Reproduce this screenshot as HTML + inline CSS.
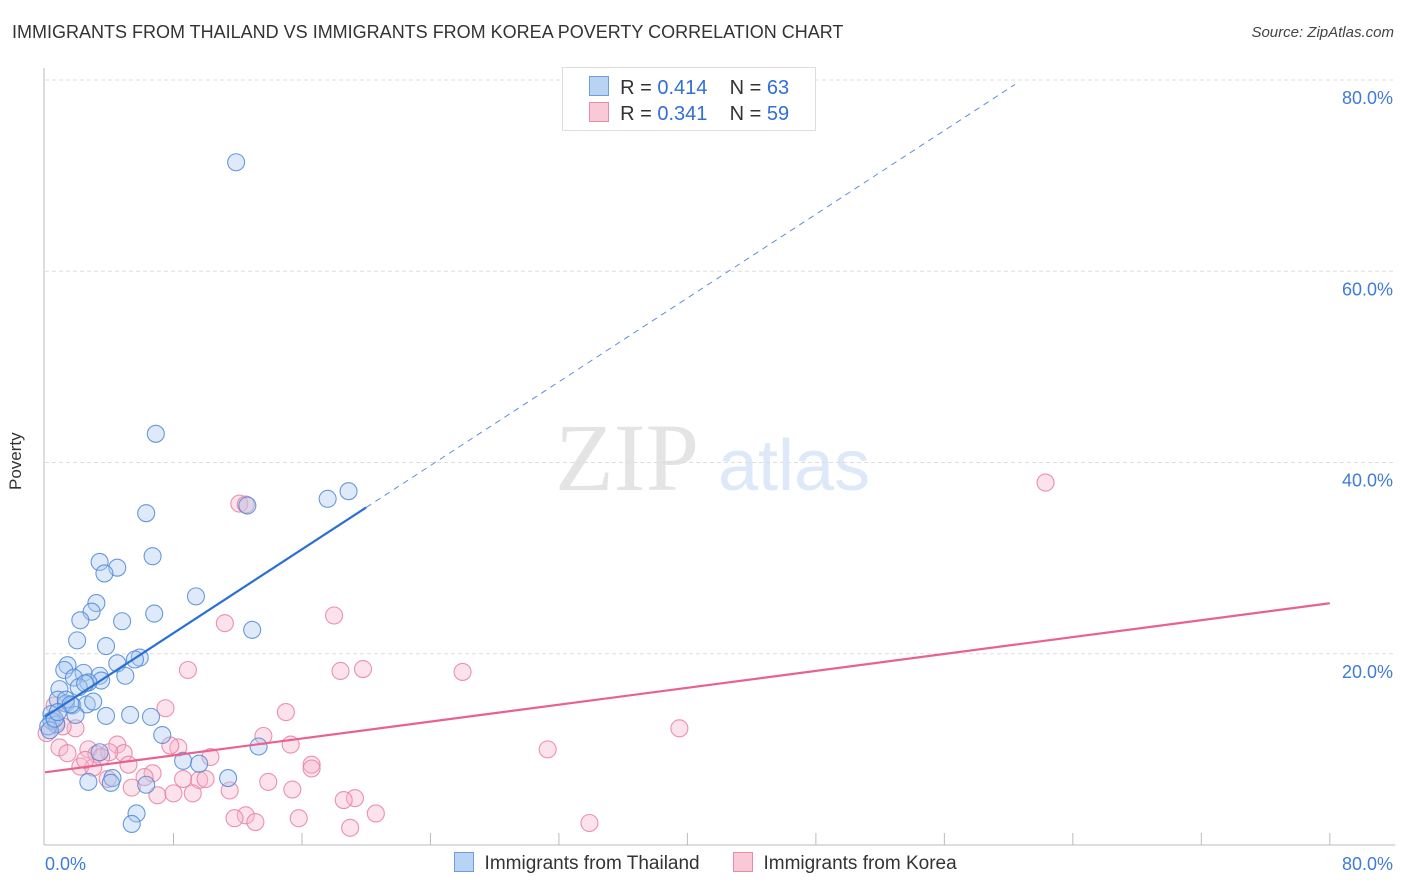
<!DOCTYPE html>
<html><head><meta charset="utf-8"><style>
body{margin:0;background:#fff;font-family:"Liberation Sans",sans-serif;}
#wrap{position:relative;width:1406px;height:892px;overflow:hidden}
.t{position:absolute;white-space:nowrap}
</style></head><body>
<div id="wrap">
<div class="t" style="left:12px;top:22px;font-size:18px;color:#333">IMMIGRANTS FROM THAILAND VS IMMIGRANTS FROM KOREA POVERTY CORRELATION CHART</div>
<div class="t" style="right:12px;top:24px;font-size:15px;color:#444;font-style:italic">Source: ZipAtlas.com</div>
<div class="t" style="left:6px;top:440px;font-size:17px;color:#333;transform:rotate(-90deg);transform-origin:left top;top:490px">Poverty</div>
<svg id="svg" width="1406" height="892" style="position:absolute;left:0;top:0"></svg>
<div style="position:absolute;left:562px;top:67px;width:252px;height:62px;border:1px solid #ddd;background:#fff;font-size:20px;color:#333">
<div style="position:absolute;left:26px;top:8px"><span style="display:inline-block;width:18px;height:18px;background:#b9d3f5;border:1px solid #6f9ee0;vertical-align:-2px"></span>&nbsp; R = <span style="color:#2f6fd6">0.414</span>&nbsp;&nbsp;&nbsp; N = <span style="color:#2f6fd6">63</span></div>
<div style="position:absolute;left:26px;top:34px"><span style="display:inline-block;width:18px;height:18px;background:#f9c9d8;border:1px solid #e88aa8;vertical-align:-2px"></span>&nbsp; R = <span style="color:#2f6fd6">0.341</span>&nbsp;&nbsp;&nbsp; N = <span style="color:#2f6fd6">59</span></div>
</div>
<div style="position:absolute;left:454px;top:852px;font-size:19px;color:#333">
<span><span style="display:inline-block;width:18px;height:18px;background:#b9d3f5;border:1px solid #6f9ee0;vertical-align:-3px"></span>&nbsp; Immigrants from Thailand</span>
<span style="margin-left:28px"><span style="display:inline-block;width:18px;height:18px;background:#f9c9d8;border:1px solid #e88aa8;vertical-align:-3px"></span>&nbsp; Immigrants from Korea</span>
</div>
</div>
<script>
const thaiX=[11.9,6.9,18.9,17.6,12.6,6.3,6.7,3.4,4.5,3.7,9.4,3.2,6.8,2.9,2.2,4.8,12.9,2.0,3.8,5.9,5.6,4.5,1.4,1.2,2.4,5.0,3.4,1.8,3.5,2.7,2.1,0.9,0.8,1.3,1.7,2.6,3.0,3.8,0.4,1.9,5.3,6.6,0.4,0.7,0.2,7.3,13.3,3.4,8.6,9.6,4.2,4.1,2.7,11.4,6.3,5.7,5.4,0.3,0.6,1.3,1.6,0.8,2.5];
const thaiY=[71.4,43.0,37.0,36.2,35.5,34.7,30.2,29.6,29.0,28.4,26.0,25.3,24.2,24.4,23.5,23.4,22.5,21.4,20.8,19.6,19.4,19.0,18.8,18.3,18.0,17.7,17.7,17.5,17.2,17.0,16.5,16.3,15.2,14.8,14.6,14.7,15.0,13.5,13.7,13.6,13.6,13.4,13.0,12.6,12.4,11.5,10.3,9.7,8.8,8.5,7.0,6.5,6.6,7.0,6.3,3.3,2.2,12.0,13.2,15.2,14.7,13.9,16.9];
const korX=[62.3,12.1,12.5,18.0,11.2,8.9,18.4,19.8,26.0,7.5,15.0,13.6,15.3,31.3,39.5,8.3,7.8,4.5,4.9,0.9,1.4,1.9,0.7,0.6,2.7,3.2,4.0,10.3,5.2,2.2,16.6,16.6,6.7,6.2,8.6,9.6,10.0,3.9,13.9,5.4,11.5,15.4,7.0,8.0,9.2,19.3,18.6,12.5,11.8,13.1,15.8,20.6,19.0,33.9,3.5,3.0,1.1,0.1,2.5];
const korY=[37.9,35.7,35.6,24.0,23.2,18.3,18.2,18.4,18.1,14.3,13.9,11.4,10.5,10.0,12.2,10.2,10.4,10.5,9.6,10.2,9.6,12.2,12.8,14.6,10.0,9.5,9.7,9.2,8.4,8.2,8.4,8.0,7.5,7.1,6.9,6.8,6.9,6.9,6.6,6.0,5.7,5.8,5.2,5.4,5.4,4.9,4.7,3.1,2.8,2.4,2.8,3.3,1.8,2.3,9.2,8.1,12.4,11.7,8.9];
const trendThai=[13.4,1.095]; const trendKor=[7.6,0.221];
const xTicks=[0,80]; const yTicks=[20,40,60,80];
const NS='http://www.w3.org/2000/svg', svg=document.getElementById('svg');
const X=v=>45+v*16.06, Y=v=>845-v*9.5625;
function mk(t,a){const e=document.createElementNS(NS,t);for(const k in a)e.setAttribute(k,a[k]);svg.appendChild(e);return e;}
let w=mk('text',{x:555,y:490,'font-size':96,fill:'#e4e4e4','font-family':'Liberation Serif,serif'});w.textContent='ZIP';


w=mk('text',{x:718,y:490,'font-size':72,fill:'#dde9f8','font-family':'Liberation Sans,sans-serif'});w.textContent='atlas';


yTicks.forEach(v=>{
 const g=mk('line',{x1:45,x2:1395,y1:Y(v),y2:Y(v),stroke:'#ddd','stroke-dasharray':'4,3'});
 
 
 const t=mk('text',{x:1393,y:Y(v)+24,'text-anchor':'end','font-size':18,fill:'#3f7bd8','font-family':'Liberation Sans,sans-serif'});t.textContent=v.toFixed(1)+'%';
 
 
});
let ax=mk('line',{x1:44,x2:44,y1:68,y2:845,stroke:'#bbb'});


ax=mk('line',{x1:44,x2:1395,y1:845,y2:845,stroke:'#bbb'});


for(let i=1;i<=10;i++){const tk=mk('line',{x1:X(i*8),x2:X(i*8),y1:833,y2:845,stroke:'#bbb'});
 
 }
xTicks.forEach((v,i)=>{const t=mk('text',{x:i?1393:45,y:870,'text-anchor':i?'end':'start','font-size':18,fill:'#3f7bd8','font-family':'Liberation Sans,sans-serif'});t.textContent=v.toFixed(1)+'%';
 
 });
function dots(xs,ys,fill,stroke,name){xs.forEach((x,i)=>{const c=mk('circle',{cx:X(x),cy:Y(ys[i]),r:8.5,fill:fill,'fill-opacity':0.38,stroke:stroke,'stroke-width':1.1,'stroke-opacity':0.85});
 
 });}
dots(korX,korY,'#f7b6ca','#e87fa2','korea-point');
dots(thaiX,thaiY,'#a9c8f0','#4f88d8','thailand-point');
let l=mk('line',{x1:X(0),y1:Y(trendThai[0]),x2:X(20),y2:Y(trendThai[0]+20*trendThai[1]),stroke:'#2a6fd4','stroke-width':2.2});


l=mk('line',{x1:X(20),y1:Y(trendThai[0]+20*trendThai[1]),x2:X(60.4),y2:Y(trendThai[0]+60.4*trendThai[1]),stroke:'#5b8fdc','stroke-width':1,'stroke-dasharray':'6,5'});


l=mk('line',{x1:X(0),y1:Y(trendKor[0]),x2:X(80),y2:Y(trendKor[0]+80*trendKor[1]),stroke:'#e8628d','stroke-width':2.2});


</script>
</body></html>
